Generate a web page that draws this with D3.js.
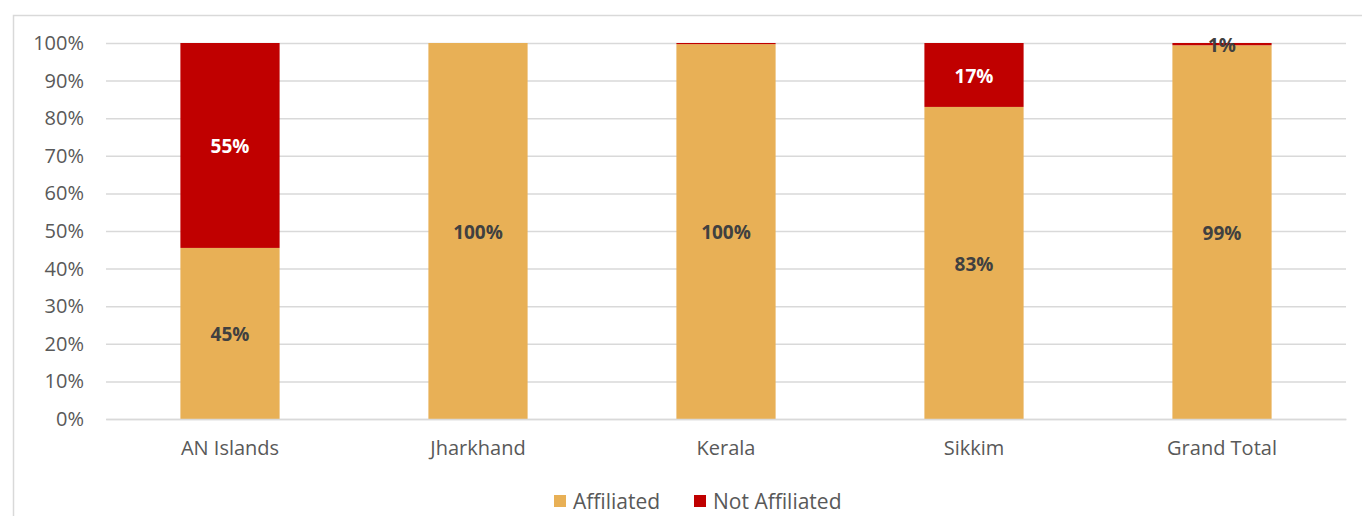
<!DOCTYPE html>
<html>
<head>
<meta charset="utf-8">
<script src="https://cdn.jsdelivr.net/npm/d3@7"></script>
<style>
  body { margin: 0; background: #fff; }
  text { font-family: "Open Sans", sans-serif; }
</style>
</head>
<body>
<div id="chart"></div>
<script>
// Données
var categories = ["AN Islands", "Jharkhand", "Kerala", "Sikkim", "Grand Total"];
var affiliated = [0.455, 1.0, 0.997, 0.83, 0.994];
var notAffiliated = [0.545, 0.0, 0.003, 0.17, 0.006];
var affiliatedLabels = ["45%", "100%", "100%", "83%", "99%"];
var notAffiliatedLabels = ["55%", "", "", "17%", "1%"];
var yTicks = [0, 0.1, 0.2, 0.3, 0.4, 0.5, 0.6, 0.7, 0.8, 0.9, 1.0];
var seriesNames = ["Affiliated", "Not Affiliated"];
var colors = ["#E8B056", "#C00000"];

var W = 1362, H = 516;
var margin = {top: 43, right: 16, bottom: 97, left: 106},
    width = W - margin.left - margin.right,
    height = H - margin.top - margin.bottom;

var svg = d3.select("#chart")
  .append("svg")
    .attr("width", W)
    .attr("height", H);

// cadre du graphique
svg.append("path")
  .attr("d", "M13.5," + H + "V15.5H" + W)
  .attr("fill", "none")
  .attr("stroke", "#d9d9d9")
  .attr("stroke-width", 1.5);

var g = svg.append("g")
  .attr("transform", "translate(" + margin.left + "," + margin.top + ")");

var x = d3.scaleBand()
  .domain(categories)
  .range([0, width])
  .paddingInner(0.6)
  .paddingOuter(0.3);

var y = d3.scaleLinear()
  .domain([0, 1])
  .range([height, 0]);

// grille
g.append("g")
  .call(d3.axisLeft(y).tickValues(yTicks).tickSize(-width).tickFormat(d3.format(".0%")).tickPadding(22))
  .call(function(a) {
    a.select(".domain").remove();
    a.selectAll(".tick line").attr("stroke", "#d9d9d9").attr("stroke-width", 1.5);
    a.selectAll(".tick text").attr("fill", "#595959").style("font-size", "20px");
  });

var stackData = categories.map(function(c, i) {
  return {cat: c, values: [affiliated[i], notAffiliated[i]], labels: [affiliatedLabels[i], notAffiliatedLabels[i]]};
});

var bars = g.selectAll(".bar")
  .data(stackData)
  .enter()
  .append("g");

bars.each(function(d) {
  var sel = d3.select(this);
  var y0 = 0;
  d.values.forEach(function(v, k) {
    var y1 = y0 + v;
    if (v > 0) {
      sel.append("rect")
        .attr("x", x(d.cat))
        .attr("width", x.bandwidth())
        .attr("y", y(y1))
        .attr("height", y(y0) - y(y1))
        .attr("fill", colors[k]);
    }
    if (d.labels[k]) {
      var big = (y(y0) - y(y1)) > 20;
      sel.append("text")
        .attr("x", x(d.cat) + x.bandwidth() / 2)
        .attr("y", (y(y0) + y(y1)) / 2 + 1)
        .attr("dy", "0.35em")
        .attr("text-anchor", "middle")
        .style("font-size", "19px")
        .style("font-weight", "bold")
        .attr("fill", (k == 1 && big) ? "#ffffff" : "#404040")
        .text(d.labels[k]);
    }
    y0 = y1;
  });
});

// axe des abscisses
g.append("g")
  .attr("transform", "translate(0," + height + ")")
  .call(d3.axisBottom(x).tickSize(0).tickPadding(22))
  .call(function(a) {
    a.select(".domain").attr("stroke", "#d9d9d9").attr("stroke-width", 1.5);
    a.selectAll(".tick text").attr("fill", "#595959").style("font-size", "20px");
  });

// légende
var legend = svg.append("g").attr("transform", "translate(554,495)");
var lx = [0, 140];
seriesNames.forEach(function(n, i) {
  legend.append("rect")
    .attr("x", lx[i]).attr("y", 0)
    .attr("width", 12).attr("height", 12)
    .attr("fill", colors[i]);
  legend.append("text")
    .attr("x", lx[i] + 19).attr("y", 7)
    .attr("dy", "0.35em")
    .attr("fill", "#595959")
    .style("font-size", "21px")
    .text(n);
});
</script>
</body>
</html>
